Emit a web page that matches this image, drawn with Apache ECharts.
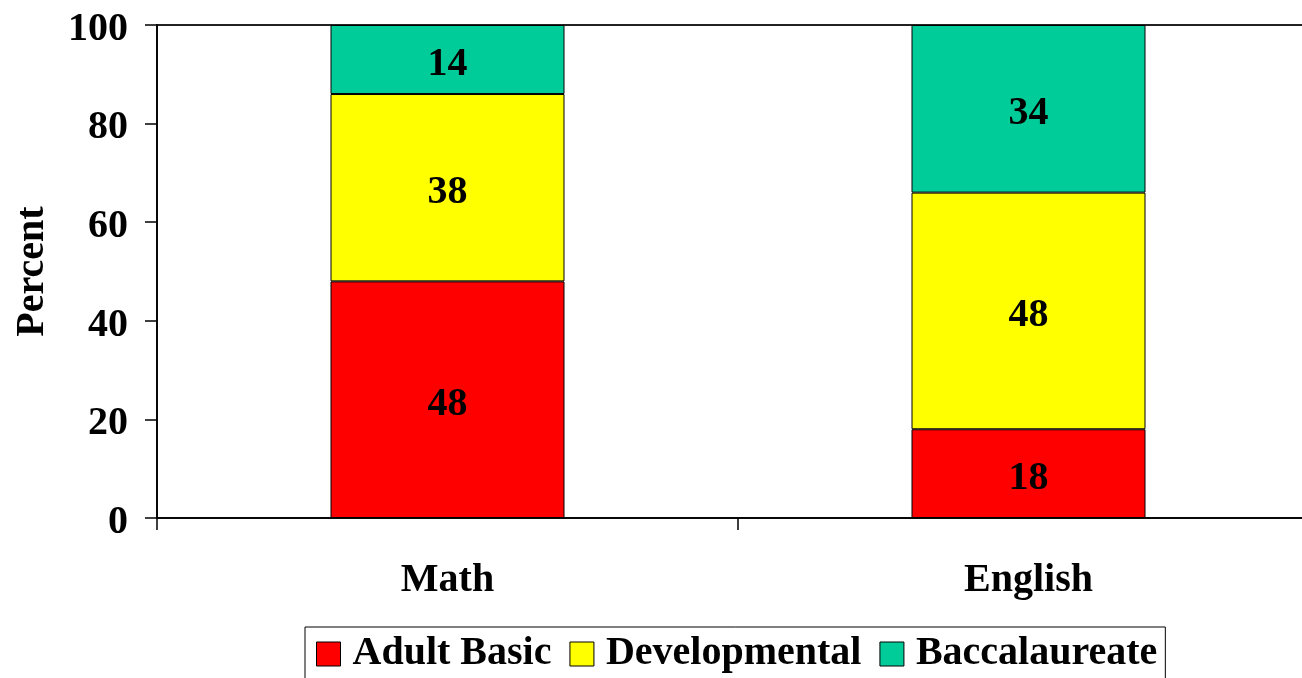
<!DOCTYPE html>
<html>
<head>
<meta charset="utf-8">
<script src="https://cdn.jsdelivr.net/npm/echarts@6/dist/echarts.min.js"></script>
<style>
  html, body { margin: 0; padding: 0; background: #fff; }
  #chart { width: 1302px; height: 678px; }
</style>
</head>
<body>
<div id="chart"></div>
<script>
// data
var categories = ['Math', 'English'];
var adultBasic = [48, 18];
var developmental = [38, 48];
var baccalaureate = [14, 34];
var seriesNames = ['Adult Basic', 'Developmental', 'Baccalaureate'];

var font = '"Liberation Serif", "Times New Roman", serif';
var myChart = echarts.init(document.getElementById('chart'));

function barSeries(name, data, color) {
    return {
        name: name,
        type: 'bar',
        stack: 'total',
        barWidth: 234,
        data: data,
        itemStyle: { color: color, borderColor: '#000', borderWidth: 1 },
        label: {
            show: true,
            position: 'inside',
            offset: [0, 5],
            color: '#000',
            fontFamily: font,
            fontWeight: 'bold',
            fontSize: 40
        }
    };
}

var option = {
    animation: false,
    backgroundColor: '#fff',
    grid: {
        left: 157,
        top: 25,
        width: 1162,
        height: 493,
        show: true,
        borderColor: '#222',
        borderWidth: 2,
        containLabel: false,
        outerBoundsMode: 'none'
    },
    legend: {
        data: seriesNames,
        left: 305,
        top: 627,
        orient: 'horizontal',
        borderColor: '#000',
        borderWidth: 1,
        padding: [7, 8, 7, 11],
        itemWidth: 24,
        itemHeight: 24,
        itemGap: 18,
        icon: 'rect',
        itemStyle: { borderColor: '#000', borderWidth: 1 },
        textStyle: {
            color: '#000',
            fontFamily: font,
            fontWeight: 'bold',
            fontSize: 40,
            padding: [0, 0, 0, 7]
        }
    },
    xAxis: {
        type: 'category',
        data: categories,
        axisLine: { show: true, lineStyle: { color: '#000', width: 1.5 } },
        axisTick: { show: true, length: 12, alignWithLabel: false, lineStyle: { color: '#000', width: 1.5 } },
        axisLabel: {
            margin: 43,
            color: '#000',
            fontFamily: font,
            fontWeight: 'bold',
            fontSize: 40
        },
        splitLine: { show: false }
    },
    yAxis: {
        type: 'value',
        min: 0,
        max: 100,
        interval: 20,
        name: 'Percent',
        nameLocation: 'middle',
        nameRotate: 90,
        nameGap: 104,
        nameTextStyle: {
            color: '#000',
            fontFamily: font,
            fontWeight: 'bold',
            fontSize: 40
        },
        axisLine: { show: true, lineStyle: { color: '#000', width: 1.5 } },
        axisTick: { show: true, length: 12, lineStyle: { color: '#000', width: 1.5 } },
        axisLabel: {
            margin: 29,
            verticalAlign: 'top',
            lineHeight: 9,
            color: '#000',
            fontFamily: font,
            fontWeight: 'bold',
            fontSize: 40
        },
        splitLine: { show: false }
    },
    series: [
        barSeries(seriesNames[0], adultBasic, '#FF0000'),
        barSeries(seriesNames[1], developmental, '#FFFF00'),
        barSeries(seriesNames[2], baccalaureate, '#00CC99')
    ]
};
myChart.setOption(option, true);
</script>
</body>
</html>
